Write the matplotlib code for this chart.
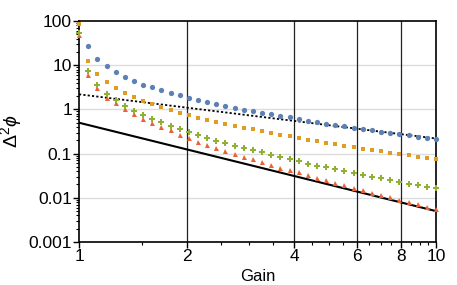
import numpy as np
import matplotlib
matplotlib.use('Agg')
import matplotlib.pyplot as plt
from matplotlib.ticker import FixedLocator, NullFormatter

plt.rcParams['font.family'] = ['Liberation Sans', 'DejaVu Sans']
plt.rcParams['mathtext.fontset'] = 'custom'
plt.rcParams['mathtext.rm'] = 'Liberation Sans'
plt.rcParams['mathtext.it'] = 'Liberation Sans:italic'

# gain values of the simulated points (log spaced)
gain = [1.000, 1.061, 1.125, 1.194, 1.266, 1.343, 1.425, 1.512, 1.604, 1.701,
        1.805, 1.915, 2.031, 2.154, 2.286, 2.425, 2.572, 2.728, 2.894, 3.070,
        3.257, 3.455, 3.665, 3.888, 4.125, 4.376, 4.642, 4.924, 5.223, 5.541,
        5.878, 6.236, 6.615, 7.017, 7.444, 7.897, 8.377, 8.886, 9.427, 10.00]

blue = [np.nan, 27, 13.8, 9.4, 6.9, 5.4, 4.4, 3.6, 3.17, 2.7,
        2.35, 2.08, 1.81, 1.63, 1.45, 1.32, 1.19, 1.1, 0.99, 0.92,
        0.84, 0.77, 0.71, 0.66, 0.6, 0.556, 0.51, 0.48, 0.445, 0.415,
        0.38, 0.355, 0.336, 0.31, 0.29, 0.277, 0.26, 0.238, 0.225, 0.21]
orange = [86, 12.3, 6.3, 4.1, 3.0, 2.3, 1.88, 1.57, 1.32, 1.13,
          0.95, 0.83, 0.73, 0.64, 0.575, 0.52, 0.475, 0.42, 0.38, 0.355,
          0.32, 0.297, 0.27, 0.246, 0.225, 0.208, 0.192, 0.177, 0.165, 0.15,
          0.139, 0.129, 0.12, 0.112, 0.105, 0.098, 0.091, 0.086, 0.081, 0.075]
green = [54, 7.5, 3.5, 2.26, 1.6, 1.17, 0.93, 0.75, 0.62, 0.51,
         0.43, 0.36, 0.31, 0.26, 0.23, 0.196, 0.174, 0.151, 0.134, 0.119,
         0.107, 0.093, 0.084, 0.076, 0.067, 0.059, 0.053, 0.049, 0.044, 0.04,
         0.036, 0.033, 0.0295, 0.0275, 0.025, 0.023, 0.021, 0.019, 0.018, 0.0164]
red = [48, 6.1, 3.05, 1.81, 1.4, 1.0, 0.79, 0.61, 0.49, 0.41,
       0.34, 0.27, 0.225, 0.186, 0.159, 0.136, 0.116, 0.1, 0.085, 0.074,
       0.066, 0.056, 0.048, 0.043, 0.038, 0.032, 0.028, 0.025, 0.022, 0.019,
       0.0168, 0.0148, 0.013, 0.0115, 0.0102, 0.009, 0.008, 0.0071, 0.0063, 0.0056]

# reference lines (end points)
line_gain = [1, 10]
heis_line = [0.5, 0.005]
sql_line = [2.2, 0.22]

xticks = [1, 2, 4, 6, 8, 10]
xminor = [1.5, 2.5, 3, 3.5, 4.5, 5, 5.5, 6.5, 7, 7.5, 8.5, 9, 9.5]
yticks = [0.001, 0.01, 0.1, 1, 10, 100]
ylabels = ['0.001', '0.01', '0.1', '1', '10', '100']

fig = plt.figure(figsize=(4.57, 2.85), dpi=100)
ax = fig.add_axes([0.173, 0.151, 0.781, 0.775])
ax.set_xscale('log')
ax.set_yscale('log')

for yv in [0.01, 0.1, 1, 10]:
    ax.axhline(yv, color='#dcdcdc', lw=1.0, zorder=0)
for xv in [2, 4, 6, 8]:
    ax.axvline(xv, color='#222222', lw=0.9, zorder=1)

ax.plot(line_gain, heis_line, color='black', lw=1.5, zorder=3)
ax.plot(line_gain, sql_line, color='black', lw=1.3, ls=(0, (1.2, 1.2)), zorder=3)

ax.plot(gain, blue, 'o', color='#5E81B5', ms=3.8, mew=0, zorder=4, clip_on=False)
ax.plot(gain, orange, 's', color='#E19C24', ms=2.9, mew=0, zorder=4, clip_on=False)
ax.plot(gain, red, '^', color='#EB6235', ms=3.6, mew=0, zorder=4, clip_on=False)
ax.plot(gain, green, 'P', color='#8FB032', ms=4.3, mew=0, zorder=5, clip_on=False)

ax.set_xlim(1, 10)
ax.set_ylim(0.001, 100)
ax.xaxis.set_major_locator(FixedLocator(xticks))
ax.xaxis.set_minor_locator(FixedLocator(xminor))
ax.xaxis.set_minor_formatter(NullFormatter())
ax.set_xticklabels([str(t) for t in xticks])
ax.yaxis.set_major_locator(FixedLocator(yticks))
ax.set_yticklabels(ylabels)

ax.tick_params(axis='both', which='major', direction='out', length=4, width=1,
               labelsize=12.5, pad=1, top=False, right=False)
ax.tick_params(axis='both', which='minor', direction='out', length=2.5, width=0.8,
               top=False, right=False)
for s in ax.spines.values():
    s.set_linewidth(1.2)

ax.set_xlabel('Gain', fontsize=12, labelpad=4)
ax.set_ylabel(r'$\Delta^2\phi$', fontsize=14, labelpad=3)

fig.savefig('out.png', dpi=100)
